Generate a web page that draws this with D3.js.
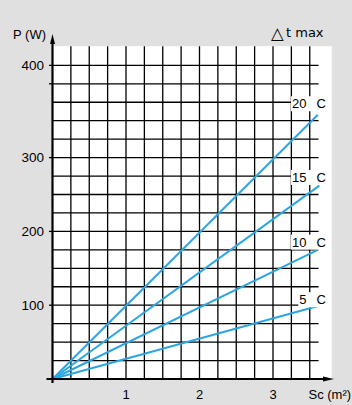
<!DOCTYPE html>
<html>
<head>
<meta charset="utf-8">
<script src="https://cdn.jsdelivr.net/npm/d3@7"></script>
<style>
  html, body { margin: 0; padding: 0; background: #e0e0e0; }
  svg { display: block; font-family: "Liberation Sans", Arial, Helvetica, sans-serif; }
</style>
</head>
<body>
<svg id="chart" width="352" height="405"></svg>
<script>
// ---- data ----
const seriesNames = ["20", "15", "10", "5"];          // Δt max (°C)
const seriesEndS  = [3.61, 3.63, 3.61, 3.65];        // Sc (m²) at line end
const seriesEndP  = [358, 262, 175, 100];            // P (W) at line end
const yTickValues = [100, 200, 300, 400, 425];
const yLabelValues = [100, 200, 300, 425];
const yLabelTexts  = ["100", "200", "300", "400"];
const xLabelValues = [1, 2, 3];
const xLabelTexts  = ["1", "2", "3"];
const xGridStep = 0.25, xGridMax = 3.5;
const yGridStep = 25,   yGridMax = 425;

// ---- layout ----
const svg = d3.select("#chart");
const x = d3.scaleLinear().domain([0, 3.5]).range([52.5, 309.75]);
const y = d3.scaleLinear().domain([0, 400]).range([379, 83.8]);

const plotTopP = 451, plotRightS = 3.8, hGridRightS = 3.62, labelS = 3.7;

// white plot area
svg.append("rect")
  .attr("x", x(0)).attr("y", y(plotTopP))
  .attr("width", x(plotRightS) - x(0))
  .attr("height", y(0) - y(plotTopP))
  .attr("fill", "#fff");

// grid
const vVals = d3.range(xGridStep, xGridMax + 1e-9, xGridStep);
const hVals = d3.range(yGridStep, yGridMax + 1e-9, yGridStep);
const grid = svg.append("g").attr("stroke", "#000").attr("stroke-width", 1.3);
grid.selectAll("line.v").data(vVals).join("line")
  .attr("x1", d => x(d)).attr("x2", d => x(d))
  .attr("y1", y(0)).attr("y2", y(plotTopP));
grid.selectAll("line.h").data(hVals).join("line")
  .attr("x1", x(0)).attr("x2", x(hGridRightS))
  .attr("y1", d => y(d)).attr("y2", d => y(d));

// series lines
const lineGen = d3.line().x(d => x(d[0])).y(d => y(d[1]));
svg.append("g").selectAll("path").data(seriesNames).join("path")
  .attr("d", (d, i) => lineGen([[0, 0], [seriesEndS[i], seriesEndP[i]]]))
  .attr("fill", "none").attr("stroke", "#2ba6e2").attr("stroke-width", 2);

// series labels with white background
const lab = svg.append("g").attr("font-size", 13).attr("fill", "#000");
seriesNames.forEach((n, i) => {
  const py = y(seriesEndP[i] / seriesEndS[i] * labelS);
  const g = lab.append("g");
  const bg = g.append("rect").attr("fill", "#fff");
  g.append("text").attr("x", 306.5).attr("y", py).attr("text-anchor", "end").text(n);
  g.append("text").attr("x", 316.5).attr("y", py).text("C");
  const bb = g.node().getBBox();
  bg.attr("x", bb.x - 1).attr("y", bb.y).attr("width", bb.width + 2).attr("height", bb.height);
});

// y axis
const ax = svg.append("g");
ax.append("line").attr("x1", x(0)).attr("x2", x(0)).attr("y1", y(0) + 4).attr("y2", 40)
  .attr("stroke", "#000").attr("stroke-width", 2.2);
ax.append("path").attr("d", `M${x(0)},34 L${x(0) - 2.5},44 L${x(0) + 2.5},44 Z`).attr("fill", "#000");
ax.selectAll("line.yt").data(yTickValues).join("line")
  .attr("x1", x(0) - 3.5).attr("x2", x(0)).attr("y1", d => y(d)).attr("y2", d => y(d))
  .attr("stroke", "#000").attr("stroke-width", 1.3);
ax.selectAll("text.yl").data(yLabelValues).join("text")
  .attr("x", 44).attr("y", d => y(d) + 4.5).attr("text-anchor", "end")
  .attr("font-size", 13.5).text((d, i) => yLabelTexts[i]);
ax.append("text").attr("x", 46).attr("y", 38.5).attr("text-anchor", "end")
  .attr("font-size", 13).text("P (W)");

// x axis
ax.append("line").attr("x1", x(0) - 6).attr("x2", 326).attr("y1", y(0)).attr("y2", y(0))
  .attr("stroke", "#000").attr("stroke-width", 2.2);
ax.append("path").attr("d", `M334,${y(0)} L323,${y(0) - 2.5} L323,${y(0) + 2.5} Z`).attr("fill", "#000");
ax.selectAll("text.xl").data(xLabelValues).join("text")
  .attr("x", d => x(d)).attr("y", 398.5).attr("text-anchor", "middle")
  .attr("font-size", 13).text((d, i) => xLabelTexts[i]);
ax.append("text").attr("x", 308.5).attr("y", 398.5).attr("font-size", 13)
  .text("Sc (m²)");

// legend title
ax.append("text").attr("x", 286).attr("y", 37.3)
  .attr("font-size", 13).attr("font-family", "DejaVu Sans").text("t max");
ax.append("text").attr("x", 271).attr("y", 39)
  .attr("font-size", 16.5).attr("font-family", "DejaVu Sans").text("△");
</script>
</body>
</html>
